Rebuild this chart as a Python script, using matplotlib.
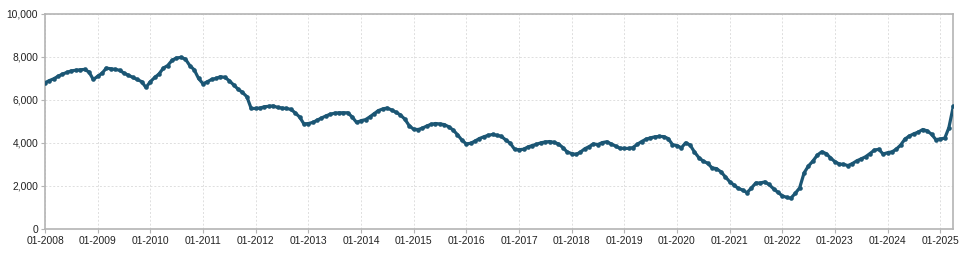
import matplotlib
matplotlib.use("Agg")
import matplotlib.pyplot as plt
import matplotlib.dates as mdates
from matplotlib.ticker import FuncFormatter, MultipleLocator
import numpy as np
import pandas as pd

start_month = "2008-01-01"

values_2008 = [6800, 6900, 6980, 7100, 7200, 7280, 7350, 7380, 7400, 7420, 7300, 6950]
values_2009 = [7100, 7250, 7480, 7450, 7420, 7380, 7250, 7150, 7050, 6950, 6850, 6580]
values_2010 = [6850, 7050, 7200, 7480, 7600, 7850, 7950, 7980, 7900, 7600, 7400, 7000]
values_2011 = [6750, 6850, 6950, 7000, 7080, 7050, 6900, 6700, 6500, 6350, 6150, 5600]
values_2012 = [5600, 5620, 5680, 5700, 5720, 5650, 5620, 5600, 5560, 5400, 5200, 4880]
values_2013 = [4900, 4950, 5050, 5150, 5250, 5330, 5380, 5400, 5400, 5400, 5200, 4950]
values_2014 = [5030, 5080, 5200, 5350, 5500, 5580, 5620, 5530, 5420, 5300, 5100, 4800]
values_2015 = [4630, 4620, 4680, 4780, 4860, 4900, 4880, 4850, 4750, 4600, 4380, 4130]
values_2016 = [3950, 3980, 4080, 4200, 4280, 4350, 4390, 4350, 4300, 4130, 3980, 3700]
values_2017 = [3680, 3700, 3800, 3870, 3930, 4000, 4040, 4060, 4020, 3950, 3780, 3570]
values_2018 = [3500, 3460, 3560, 3720, 3820, 3950, 3920, 4010, 4050, 3950, 3850, 3750]
values_2019 = [3740, 3740, 3780, 3930, 4060, 4170, 4230, 4280, 4300, 4290, 4200, 3920]
values_2020 = [3870, 3770, 4000, 3900, 3580, 3310, 3150, 3050, 2830, 2800, 2650, 2420]
values_2021 = [2190, 2030, 1880, 1800, 1680, 1900, 2130, 2130, 2180, 2060, 1860, 1700]
values_2022 = [1530, 1460, 1420, 1650, 1900, 2600, 2920, 3150, 3430, 3580, 3500, 3300]
values_2023 = [3120, 3010, 3000, 2940, 3030, 3160, 3250, 3350, 3500, 3660, 3700, 3480]
values_2024 = [3540, 3580, 3700, 3900, 4180, 4320, 4420, 4500, 4620, 4560, 4400, 4150]
values_2025 = [4180, 4220, 4700, 5700]

values = (values_2008 + values_2009 + values_2010 + values_2011 + values_2012
          + values_2013 + values_2014 + values_2015 + values_2016 + values_2017
          + values_2018 + values_2019 + values_2020 + values_2021 + values_2022
          + values_2023 + values_2024 + values_2025)
months = pd.date_range(start_month, periods=len(values), freq="MS")

line_color = "#1b5674"
grid_color = "#dedede"
spine_color = "#b4b4b4"
text_color = "#222222"

plt.rcParams["font.family"] = ["Liberation Sans", "DejaVu Sans"]

fig = plt.figure(figsize=(9.7, 2.62), dpi=100)
ax = fig.add_axes([0.0464, 0.127, 0.9364, 0.8196])

ax.plot(months, values, color=line_color, linewidth=2.3, marker="o",
        markersize=3.3, markeredgewidth=0, solid_capstyle="round", zorder=3)

ax.set_xlim(months[0], months[-1])
ax.set_ylim(0, 10000)
ax.yaxis.set_major_locator(MultipleLocator(2000))
ax.yaxis.set_major_formatter(FuncFormatter(lambda v, p: f"{int(v):,}"))
ax.xaxis.set_major_locator(mdates.YearLocator(1, month=1, day=1))
ax.xaxis.set_major_formatter(mdates.DateFormatter("%m-%Y"))

# light, finely dashed grid
ax.grid(True, color=grid_color, linestyle=(0, (2, 2)), linewidth=0.7)
ax.set_axisbelow(True)

for spine in ax.spines.values():
    spine.set_color(spine_color)
    spine.set_linewidth(1.2)

ax.tick_params(axis="both", colors=spine_color, labelcolor=text_color,
               labelsize=7.4, length=3, width=0.8, pad=2)

fig.savefig("out.png", dpi=100, facecolor="white")
